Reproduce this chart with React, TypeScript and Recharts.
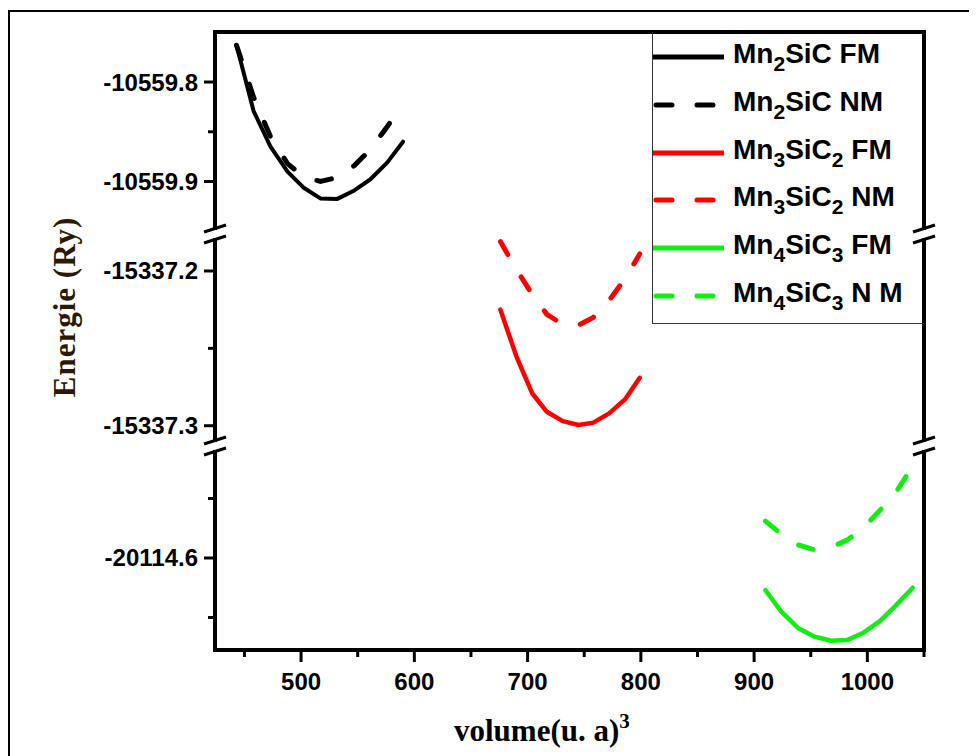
import React from "react";
import { LineChart, Line, XAxis, YAxis, ReferenceLine } from "recharts";

// volumes (u.a)^3 and total energies (Ry)
const volumeMn2SiC = [443, 458, 473, 488, 502, 517, 532, 547, 561, 576, 590];
const energyMn2SiCFM = [
  -10559.763, -10559.829, -10559.865, -10559.89, -10559.906, -10559.917,
  -10559.9175, -10559.909, -10559.898, -10559.881, -10559.86,
];
const energyMn2SiCNM = [
  -10559.763, -10559.815, -10559.855, -10559.882, -10559.895, -10559.9,
  -10559.896, -10559.884, -10559.868, -10559.845, -10559.821,
];

const volumeMn3SiC2 = [676, 690, 704, 717, 731, 745, 758, 772, 786, 799];
const energyMn3SiC2FM = [
  -15337.225, -15337.255, -15337.279, -15337.291, -15337.297, -15337.2995,
  -15337.298, -15337.292, -15337.283, -15337.269,
];
const energyMn3SiC2NM = [
  -15337.181, -15337.199, -15337.215, -15337.228, -15337.2345, -15337.235,
  -15337.23, -15337.219, -15337.205, -15337.189,
];

const volumeMn4SiC3 = [910, 924, 939, 953, 968, 982, 996, 1011, 1025, 1040];
const energyMn4SiC3FM = [
  -20114.627, -20114.645, -20114.659, -20114.666, -20114.6695, -20114.669,
  -20114.663, -20114.653, -20114.64, -20114.625,
];
const energyMn4SiC3NM = [
  -20114.569, -20114.58, -20114.589, -20114.593, -20114.591, -20114.585,
  -20114.575, -20114.56, -20114.545, -20114.523,
];

const xDomain: [number, number] = [424, 1050];
const xTicks = [450, 500, 550, 600, 650, 700, 750, 800, 850, 900, 950, 1000, 1050];
const xMajorTicks = [500, 600, 700, 800, 900, 1000];

const yDomainTop: [number, number] = [-10559.9528, -10559.7497];
const yTicksTop = [-10559.8, -10559.85, -10559.9];
const yMajorTop = [-10559.8, -10559.9];
const yDomainMid: [number, number] = [-15337.3131, -15337.1761];
const yTicksMid = [-15337.2, -15337.25, -15337.3];
const yMajorMid = [-15337.2, -15337.3];
const yDomainLow: [number, number] = [-20114.6773, -20114.5059];
const yTicksLow = [-20114.55, -20114.6, -20114.65];
const yMajorLow = [-20114.6];

const legendItems = [
  { label: "Mn2SiC FM", color: "#000000", dashed: false },
  { label: "Mn2SiC NM", color: "#000000", dashed: true },
  { label: "Mn3SiC2 FM", color: "#ff0000", dashed: false },
  { label: "Mn3SiC2 NM", color: "#ff0000", dashed: true },
  { label: "Mn4SiC3 FM", color: "#11ee11", dashed: false },
  { label: "Mn4SiC3 N M", color: "#11ee11", dashed: true },
];

const rows = (vol: number[], fm: number[], nm: number[]) =>
  vol.map((v, i) => ({ volume: v, fm: fm[i], nm: nm[i] }));

const dataMn2SiC = rows(volumeMn2SiC, energyMn2SiCFM, energyMn2SiCNM);
const dataMn3SiC2 = rows(volumeMn3SiC2, energyMn3SiC2FM, energyMn3SiC2NM);
const dataMn4SiC3 = rows(volumeMn4SiC3, energyMn4SiC3FM, energyMn4SiC3NM);

const W = 977;
const PLOT_LEFT = 215;
const PLOT_RIGHT = 924;
const PLOT_TOP = 32;
const BREAK1 = 234;
const BREAK2 = 446;
const PLOT_BOTTOM = 650;
const DASH = "15 26";
const tickFont = "'Liberation Sans', Arial, sans-serif";

const XTick = (props: any) => {
  const { x, y, payload } = props;
  const major = xMajorTicks.includes(payload.value);
  return (
    <g>
      <line x1={x} x2={x} y1={y} y2={y + (major ? 12 : 7)} stroke="#000" strokeWidth={3} />
      {major && (
        <text x={x} y={y + 40} textAnchor="middle" fontSize={24} fontWeight="bold" fontFamily={tickFont} fill="#000">
          {payload.value}
        </text>
      )}
    </g>
  );
};

const makeYTick = (majors: number[]) => (props: any) => {
  const { x, y, payload } = props;
  const major = majors.includes(payload.value);
  return (
    <g>
      <line x1={x - (major ? 11 : 7)} x2={x} y1={y} y2={y} stroke="#000" strokeWidth={3} />
      {major && (
        <text x={x - 17} y={y + 8.5} textAnchor="end" fontSize={24} fontWeight="bold" fontFamily={tickFont} fill="#000">
          {payload.value.toFixed(1)}
        </text>
      )}
    </g>
  );
};

type SegmentProps = {
  top: number;
  plotTop: number;
  plotHeight: number;
  data: any[];
  color: string;
  domain: [number, number];
  ticks: number[];
  majors: number[];
  bottomAxis?: boolean;
  topLine?: boolean;
  fmWidth?: number;
};

const Segment = ({ top, plotTop, plotHeight, data, color, domain, ticks, majors, bottomAxis, topLine, fmWidth = 4.5 }: SegmentProps) => {
  const xHeight = bottomAxis ? 80 : 0;
  return (
    <div style={{ position: "absolute", left: 0, top }}>
      <LineChart
        width={W}
        height={plotTop + plotHeight + xHeight}
        data={data}
        margin={{ top: plotTop, right: W - PLOT_RIGHT, bottom: 0, left: PLOT_LEFT - 80 }}
      >
        <XAxis
          type="number"
          dataKey="volume"
          domain={xDomain}
          ticks={xTicks}
          interval={0}
          allowDataOverflow
          hide={!bottomAxis}
          height={xHeight}
          tickSize={0}
          tickMargin={0}
          tickLine={false}
          tick={<XTick />}
          axisLine={{ stroke: "#000", strokeWidth: 4 }}
        />
        <YAxis
          type="number"
          width={80}
          domain={domain}
          ticks={ticks}
          interval={0}
          allowDataOverflow
          tickSize={0}
          tickMargin={0}
          tickLine={false}
          tick={makeYTick(majors)}
          axisLine={{ stroke: "#000", strokeWidth: 4 }}
        />
        {topLine && <ReferenceLine y={domain[1]} stroke="#000" strokeWidth={4} ifOverflow="visible" />}
        <ReferenceLine x={xDomain[1]} stroke="#000" strokeWidth={4} ifOverflow="visible" />
        <Line
          type="linear"
          dataKey="fm"
          stroke={color}
          strokeWidth={fmWidth}
          strokeLinecap="round"
          strokeLinejoin="round"
          dot={false}
          isAnimationActive={false}
        />
        <Line
          type="linear"
          dataKey="nm"
          stroke={color}
          strokeWidth={5}
          strokeDasharray={DASH}
          strokeLinecap="round"
          dot={false}
          isAnimationActive={false}
        />
      </LineChart>
    </div>
  );
};

const Formula = ({ text }: { text: string }) => (
  <>
    {text.split("").map((ch, i) =>
      /[0-9]/.test(ch) ? (
        <span key={i} style={{ fontSize: 21, position: "relative", top: 8 }}>
          {ch}
        </span>
      ) : (
        <span key={i}>{ch}</span>
      )
    )}
  </>
);

const BreakMark = ({ x, y }: { x: number; y: number }) => (
  <g>
    <rect x={x - 5} y={y - 4} width={10} height={8} fill="#fff" />
    <line x1={x - 11} y1={y - 2} x2={x + 11} y2={y - 9} stroke="#000" strokeWidth={3} />
    <line x1={x - 11} y1={y + 9} x2={x + 11} y2={y + 2} stroke="#000" strokeWidth={3} />
  </g>
);

const App = () => {
  return (
    <div style={{ position: "relative", width: W, height: 756, margin: "-8px 0 0 -8px", background: "#fff" }}>
      <div style={{ position: "absolute", left: 8, top: 10, width: 964, height: 746, borderTop: "2px solid #000", borderLeft: "2px solid #000", borderRight: "2px solid #000", boxSizing: "border-box" }} />
      <Segment
        top={0}
        plotTop={PLOT_TOP}
        plotHeight={BREAK1 - PLOT_TOP}
        data={dataMn2SiC}
        color="#000000"
        domain={yDomainTop}
        ticks={yTicksTop}
        majors={yMajorTop}
        topLine
        fmWidth={4}
      />
      <Segment
        top={BREAK1}
        plotTop={0}
        plotHeight={BREAK2 - BREAK1}
        data={dataMn3SiC2}
        color="#ff0000"
        domain={yDomainMid}
        ticks={yTicksMid}
        majors={yMajorMid}
      />
      <Segment
        top={BREAK2}
        plotTop={0}
        plotHeight={PLOT_BOTTOM - BREAK2}
        data={dataMn4SiC3}
        color="#11ee11"
        domain={yDomainLow}
        ticks={yTicksLow}
        majors={yMajorLow}
        bottomAxis
      />
      {/* plot frame */}
      <div
        style={{
          position: "absolute",
          left: PLOT_LEFT - 2,
          top: PLOT_TOP - 2,
          width: PLOT_RIGHT - PLOT_LEFT + 4,
          height: PLOT_BOTTOM - PLOT_TOP + 4,
          borderStyle: "solid",
          borderColor: "#000",
          borderWidth: 4,
          boxSizing: "border-box",
          zIndex: 5,
        }}
      />
      <div
        style={{
          position: "absolute",
          left: 652,
          top: PLOT_TOP,
          width: PLOT_RIGHT - 652,
          height: 292,
          borderLeft: "1.5px solid #333",
          borderBottom: "1.5px solid #333",
          boxSizing: "border-box",
          zIndex: 6,
        }}
      >
        {legendItems.map((item, i) => (
          <div
            key={item.label}
            style={{
              position: "absolute",
              left: 0,
              top: 24.7 + i * 47.9 - 24,
              height: 48,
              display: "flex",
              alignItems: "center",
              whiteSpace: "nowrap",
            }}
          >
            <svg width={72} height={10} style={{ display: "block" }}>
              <line
                x1={item.dashed ? 3 : 0}
                y1={5}
                x2={item.dashed ? 69 : 71}
                y2={5}
                stroke={item.color}
                strokeWidth={5}
                strokeLinecap={item.dashed ? "round" : "butt"}
                strokeDasharray={item.dashed ? "16 25" : undefined}
              />
            </svg>
            <span
              style={{
                marginLeft: 8,
                fontSize: 28,
                fontWeight: "bold",
                fontFamily: tickFont,
                color: "#000",
                lineHeight: "28px",
                position: "relative",
                top: -2,
              }}
            >
              <Formula text={item.label} />
            </span>
          </div>
        ))}
      </div>
      <svg width={W} height={756} style={{ position: "absolute", left: 0, top: 0, pointerEvents: "none", zIndex: 7 }}>
        <BreakMark x={PLOT_LEFT} y={BREAK1} />
        <BreakMark x={PLOT_LEFT} y={BREAK2} />
        <BreakMark x={PLOT_RIGHT} y={BREAK1} />
        <BreakMark x={PLOT_RIGHT} y={BREAK2} />
        <text
          x={64}
          y={307}
          transform="rotate(-90 64 307)"
          textAnchor="middle"
          dominantBaseline="central"
          fontSize={31}
          fontWeight="bold"
          fontFamily="'Liberation Serif', 'Times New Roman', serif"
          fill="#2a1a05"
          letterSpacing={1}
        >
          Energie (Ry)
        </text>
        <text
          x={454}
          y={741}
          fontSize={31}
          fontWeight="bold"
          fontFamily="'Liberation Serif', 'Times New Roman', serif"
          fill="#000"
        >
          volume(u. a)
          <tspan dy={-13} fontSize={21}>3</tspan>
        </text>
      </svg>
    </div>
  );
};

export default App;
